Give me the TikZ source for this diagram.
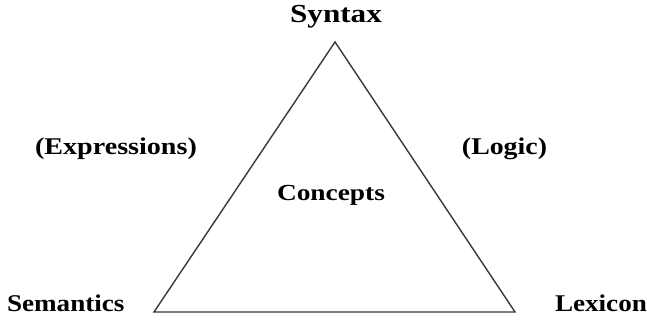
\documentclass[tikz,border=0pt]{standalone}
\usepackage{fontspec}
\usepackage{graphicx}
\setmainfont{Liberation Serif}
\newcommand{\widetext}[2]{\scalebox{#1}[1]{#2}}
\tikzset{
  x=1pt, y=-1pt,
  lbl/.style={inner sep=0pt, outer sep=0pt, font=\bfseries\fontsize{24}{28}\selectfont},
  edge/.style={line width=1.4pt, draw=black!78, line join=miter},
}
\begin{document}
\begin{tikzpicture}
  \useasboundingbox (0,0) rectangle (647,320);
  % corners of the triangle
  \coordinate (top) at (335,42);
  \coordinate (left) at (154,312);
  \coordinate (right) at (515,312);
  \draw[edge] (top) -- (left) -- (right) -- cycle;
  % labels
  \node[lbl, anchor=base, font=\bfseries\fontsize{26}{30}\selectfont] (syntax) at (336,23) {\widetext{1.2}{Syntax}};
  \node[lbl, anchor=base west] (semantics) at (7,311) {\widetext{1.13}{Semantics}};
  \node[lbl, anchor=base west] (lexicon) at (555,311) {\widetext{1.13}{Lexicon}};
  \node[lbl, anchor=base] (expressions) at (116,155) {\widetext{1.17}{(Expressions)}};
  \node[lbl, anchor=base] (logic) at (504.5,155) {\widetext{1.16}{(Logic)}};
  \node[lbl, anchor=base, font=\bfseries\fontsize{23}{27}\selectfont] (concepts) at (331,201) {\widetext{1.19}{Concepts}};
\end{tikzpicture}
\end{document}
